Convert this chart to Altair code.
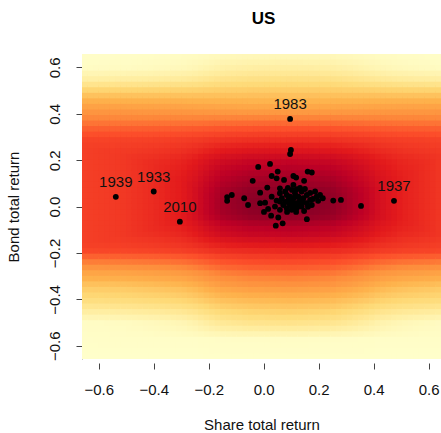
import altair as alt
import numpy as np
import pandas as pd

# ---- scatter data (share total return, bond total return) ----
share = [0.099, 0.096, 0.023, -0.020, 0.051, 0.029, 0.047, 0.108, 0.118, 0.160,
         0.175, -0.040, 0.074, 0.147, 0.108, 0.013, 0.059, -0.013, 0.120, -0.116,
         -0.133, -0.133, -0.071, -0.057, 0.029, -0.013, 0.005, 0.059, 0.078, 0.084,
         0.096, 0.066, 0.090, 0.102, 0.114, 0.126, 0.132, 0.144, 0.138, 0.157,
         0.169, 0.187, 0.193, 0.175, 0.157, 0.114, 0.096, 0.071, 0.059, 0.047,
         0.041, 0.084, 0.102, 0.120, 0.138, 0.215, 0.253, 0.281, 0.354, 0.027,
         0.053, 0.069, 0.044, 0.157, 0.088, 0.103, 0.132, 0.150, 0.169, 0.179,
         0.110, 0.125, 0.143, 0.078, 0.092, 0.129, 0.161, 0.107, 0.118, 0.085,
         0.059, 0.147, 0.198, 0.205, 0.016, 0.001]
bond = [0.244, 0.227, 0.184, 0.171, 0.151, 0.132, 0.122, 0.132, 0.125, 0.151,
        0.147, 0.111, 0.115, 0.111, 0.094, 0.082, 0.079, 0.060, 0.075, 0.050,
        0.041, 0.025, 0.036, 0.007, 0.043, 0.015, 0.017, 0.058, 0.065, 0.050,
        0.043, 0.036, 0.029, 0.022, 0.058, 0.043, 0.029, 0.036, 0.065, 0.050,
        0.029, 0.065, 0.043, 0.007, 0.015, 0.015, 0.007, 0.007, 0.022, 0.026,
        0.000, -0.007, -0.014, -0.007, 0.000, 0.036, 0.026, 0.029, 0.003, -0.039,
        -0.047, -0.072, -0.082, -0.054, 0.081, 0.072, 0.081, 0.076, 0.059, 0.033,
        0.037, 0.016, 0.020, 0.020, 0.016, 0.003, -0.001, -0.001, -0.023, -0.023,
        -0.014, -0.019, 0.025, 0.050, -0.010, -0.023]

label_years = ["1983", "1939", "1933", "2010", "1937"]
label_share = [0.096, -0.538, -0.400, -0.305, 0.474]
label_bond = [0.378, 0.042, 0.065, -0.065, 0.025]

# ---- background density, read as profiles (0 = palest, 1 = darkest) ----
prof_x_pos = [-0.70, -0.66, -0.50, -0.40, -0.30, -0.25, -0.20, -0.15, -0.05, 0.10,
              0.25, 0.31, 0.37, 0.42, 0.50, 0.60, 0.70]
prof_x_val = [0.66, 0.66, 0.68, 0.71, 0.75, 0.80, 0.87, 0.93, 0.98, 1.00,
              0.97, 0.92, 0.86, 0.80, 0.74, 0.70, 0.66]

prof_y_pos = [-0.70, -0.57, -0.54, -0.51, -0.47, -0.42, -0.38, -0.34, -0.29, -0.25,
              -0.21, -0.165, -0.12, -0.08, -0.04, 0.02, 0.07, 0.114, 0.157, 0.20,
              0.243, 0.286, 0.33, 0.37, 0.415, 0.46, 0.52, 0.59, 0.66, 0.70]
prof_y_center = [0.00, 0.02, 0.10, 0.17, 0.25, 0.33, 0.40, 0.48, 0.55, 0.62,
                 0.68, 0.76, 0.85, 0.90, 0.98, 1.00, 0.98, 0.94, 0.90, 0.85,
                 0.77, 0.70, 0.63, 0.55, 0.44, 0.36, 0.26, 0.13, 0.04, 0.02]

prof_ye_pos = [-0.70, -0.50, -0.46, -0.43, -0.40, -0.37, -0.345, -0.315, -0.285, -0.26,
               -0.23, -0.187, -0.10, 0.20, 0.29, 0.33, 0.37, 0.415, 0.46, 0.50,
               0.545, 0.60, 0.70]
prof_y_edge = [0.00, 0.02, 0.10, 0.17, 0.23, 0.27, 0.30, 0.37, 0.42, 0.48,
               0.55, 0.65, 0.68, 0.68, 0.65, 0.60, 0.53, 0.46, 0.37, 0.27,
               0.12, 0.02, 0.00]

palette_stops = [0, 0.125, 0.25, 0.375, 0.5, 0.625, 0.75, 0.875, 1.0]
palette = ["#ffffcc", "#ffeda0", "#fed976", "#feb24c", "#fd8d3c",
           "#fc4e2a", "#e31a1c", "#bd0026", "#800026"]

X_DOMAIN = [-0.661, 0.645]
Y_DOMAIN = [-0.657, 0.658]
NX, NY = 65, 55

xe = np.linspace(X_DOMAIN[0], X_DOMAIN[1], NX + 1)
ye = np.linspace(Y_DOMAIN[0], Y_DOMAIN[1], NY + 1)
dx = xe[1] - xe[0]
dy = ye[1] - ye[0]
rows = []
for i in range(NX):
    xc = 0.5 * (xe[i] + xe[i + 1])
    pxv = np.interp(xc, prof_x_pos, prof_x_val)
    w = min(max((1.0 - pxv) / (1.0 - 0.66), 0.0), 1.0)
    for j in range(NY):
        yc = 0.5 * (ye[j] + ye[j + 1])
        pc = np.interp(yc, prof_y_pos, prof_y_center)
        pe = np.interp(yc, prof_ye_pos, prof_y_edge)
        pyv = w * pe + (1 - w) * pc
        t = min(pxv, pyv)
        rows.append({"x0": xe[i], "x1": min(xe[i + 1] + dx * 0.35, X_DOMAIN[1]),
                     "y0": ye[j], "y1": min(ye[j + 1] + dy * 0.35, Y_DOMAIN[1]),
                     "t": float(t)})
grid = pd.DataFrame(rows)
pts = pd.DataFrame({"share": share, "bond": bond})
labs = pd.DataFrame({"share": label_share, "bond": label_bond, "year": label_years})

FONT = "Liberation Sans"
ticks = [-0.6, -0.4, -0.2, 0.0, 0.2, 0.4, 0.6]

xscale = alt.Scale(domain=X_DOMAIN, nice=False, zero=False)
yscale = alt.Scale(domain=Y_DOMAIN, nice=False, zero=False)

xaxis = alt.Axis(values=ticks, format=".1f", domain=False, grid=False, tickSize=6,
                 tickColor="#444444", offset=4, labelFontSize=15, labelFont=FONT,
                 labelColor="#111111", labelPadding=13, title="Share total return",
                 titleFont=FONT, titleFontSize=15, titleFontWeight="normal",
                 titleColor="#111111", titlePadding=20, labelFlush=False)
yaxis = alt.Axis(values=ticks, format=".1f", domain=True, domainColor="#999999",
                 grid=False, tickSize=6, tickColor="#444444", labelFontSize=15,
                 labelFont=FONT, labelColor="#111111", labelAngle=270,
                 labelAlign="center", labelBaseline="bottom", labelPadding=14,
                 title="Bond total return", titleFont=FONT, titleFontSize=15,
                 titleFontWeight="normal", titleColor="#111111", titlePadding=26,
                 labelFlush=False)

heat = alt.Chart(grid).mark_rect(strokeWidth=0).encode(
    x=alt.X("x0:Q", scale=xscale, axis=xaxis),
    x2="x1:Q",
    y=alt.Y("y0:Q", scale=yscale, axis=yaxis),
    y2="y1:Q",
    color=alt.Color("t:Q", scale=alt.Scale(domain=palette_stops, range=palette,
                                           interpolate="rgb"),
                    legend=None),
)

dots = alt.Chart(pts).mark_circle(size=34, color="black", opacity=1).encode(
    x=alt.X("share:Q", scale=xscale),
    y=alt.Y("bond:Q", scale=yscale),
)
ldots = alt.Chart(labs).mark_circle(size=34, color="black", opacity=1).encode(
    x=alt.X("share:Q", scale=xscale),
    y=alt.Y("bond:Q", scale=yscale),
)
ltext = alt.Chart(labs).mark_text(dy=-15, fontSize=15, font=FONT, color="#111111").encode(
    x=alt.X("share:Q", scale=xscale),
    y=alt.Y("bond:Q", scale=yscale),
    text="year:N",
)

chart = alt.layer(heat, dots, ldots, ltext).properties(
    width=359, height=305,
    title=alt.TitleParams("US", font=FONT, fontSize=17, fontWeight="bold",
                          anchor="middle", offset=26, color="#000000", dx=2),
    padding={"left": 82, "top": 54, "right": 0, "bottom": 74},
    autosize=alt.AutoSizeParams(type="none"),
).configure_view(stroke=None)

chart.save("out.html", embed_options={"renderer": "svg", "actions": False})
